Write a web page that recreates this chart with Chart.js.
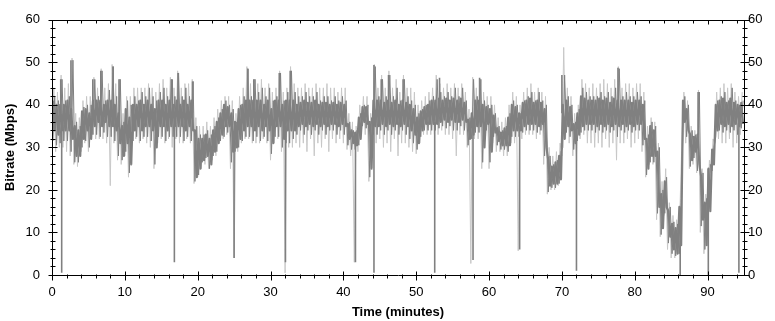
<!DOCTYPE html>
<html>
<head>
<meta charset="utf-8">
<script src="https://cdn.jsdelivr.net/npm/chart.js@4/dist/chart.umd.min.js"></script>
<style>
html,body{margin:0;padding:0;background:#fff;}
canvas{display:block;}
</style>
</head>
<body>
<canvas id="c" width="775" height="321"></canvas>
<script>
// Time axis: minutes, each bin covers binMinutes
const binMinutes = 0.5;
const xTickValues = [0,10,20,30,40,50,60,70,80,90];
const yTickValues = [0,10,20,30,40,50,60];

// Dense core of the bitrate trace (dark): per-bin low / high, Mbps
const darkLo = [
34,33,34,34,34,32,28,28,32,34,
32,35,36,35,36,35,35,34,31,28,
31,26,34,35,34,35,35,34,30,35,
35,34,35,35,35,35,34,35,34,23,
25,27,28,26,29,31,33,35,35,29,
30,32,34,35,35,34,35,34,35,34,
31,35,35,32,34,34,34,35,35.5,35,
35.5,35,35.5,35,35.5,35,35.5,35.5,35,35.5,
35,32,31,30.5,32,36,35.5,25,35,35,
35.5,35,35.5,35,35.5,35,35.5,35,34,33,
31,34,35.5,35.5,35.5,35.5,36,36.5,36,36.5,
36,36,36.5,36,32,33,35,35,30,35.5,
29,33.5,31.5,30.5,30.5,30.5,34,34,34,35,
35.5,35.5,35.5,35,35.5,30,21,21.5,21.5,22.5,
32,35,34,31,33,35,35.5,35.5,35.5,35,
35.5,35,35.5,35,35.5,35,35.5,35,35.5,35,
35.5,35.5,32,25,28,28,16,11,16,9,
6,5,7,36,34,27,29,26,13,7,
15,26,34,35.5,35,35.5,35,35.5,35,35.5
];
const darkHi = [
41,40,40,40,41,39,35,34,38.5,39,
38,41,41,41,40,41,41,40,38,35,
39,37,40,40,41,40,41,40,39,41,
41,40,41,40,41,40,41,40,41,34,
32,32,33,32,34,36,38,40,39.5,38,
36,39,40,41,41,41,41,41,40,41,
39,41,41,40,41,41,41,40,40.5,41,
40.5,40.5,41,40,40.5,40.5,40,40.5,40,40.5,
40,35.5,34,33.5,37,39.5,39.5,36,41,41,
41,40.5,41,40.5,41,40,41,40.5,40,39,
37,38.5,39.5,40,41,41,41.5,41,41.5,41,
41.5,41,41.5,40.5,36.5,38,41,41,40,39.5,
39,37.5,34.5,33.5,34.5,37,40,39.5,38,40.5,
41,41.5,40.5,41,40.5,39,27,25.5,26.5,28,
40,41,39.5,35.5,38,42,41.5,41,41,41,
41.5,41,41.5,40.5,41.5,41,41,41,41,40.5,
41,41,40,32,35,34,29,19,22,15,
12,11,16,41,39,33,32.5,33,23,17,
25,29.5,40,41,41.5,40.5,41.5,40.5,40,40.5
];
// Dark noise extremes around the core: per-bin low / high, Mbps
const noiseLo = [
31.5,30.5,31,31.5,31.5,29,26.5,26.5,30,31.5,
30,33,33,32.5,33.5,32.5,32.5,31.5,28,27,
29,24,31.5,32.5,31.5,32.5,32.5,31.5,26,32.5,
32.5,31.5,32.5,32.5,32.5,32.5,31.5,32.5,31.5,22,
23.5,26.5,27.5,25,28,29,31.5,32.5,33.5,26.5,
29,30,31.5,32.5,32.5,31.5,32.5,31.5,32.5,31.5,
28.5,32.5,32.5,30,31,31,32,33,34,33,
34,33,34,33,34,33,34,34,33,34,
33,30.5,29.5,29.5,30.5,35,34.5,23,33,33,
34,33,34,33,34,33,34,33,32,31,
29.5,32.5,34,34,34,34,34.5,35,34.5,35,
34,34,35,34,30.5,32,33.5,33.5,26.5,34,
26.5,32.5,30.5,29.5,29.5,29,32.5,32.5,32.5,33.5,
34,34,34,33.5,34,28,19.5,20.5,20.5,21.5,
30,33.5,32.5,29.5,31.5,33.5,34,34,34,33.5,
34,33.5,34,33.5,34,32.5,34,33.5,34,33.5,
34,34,30.5,23.5,26.5,26.5,14.5,9.5,14.5,7.5,
5,4.5,5,34.5,32.5,25.5,27.5,24.5,11.5,6,
14,24.5,32.5,34,33.5,34,33.5,34,33,34.5
];
const noiseHi = [
42,41,46,41,42,50.5,36,35,39.5,40,
40,46,42,48,41,43.5,49,42,46,36,
41,40,42,41,43,42,44,42,41,43,
44,42,46,42,47.5,42,44,42,45.5,35,
33,33,34,33,35,37,39,41,40,39,
36,40,42,48.5,42,46,43,44,42,44,
41,42,47.5,41,43,48,43,42,42,43,
42,42,43,41,42,42,41,42,41,42,
41,36,34,34,38,40,40,37,49,42,
46,42,47,42,44,41,46,42,41,40,
38,39,40,41,42,46,43,42,43,42,
44,42,44,41,37,46,42,46,41,40,
40,38,35,34,35,38,41,40,38,41,
42,43,41,43,41,40,28,26,27,29,
47,42,40,36,39,44,43,42,42,42,
43,42,43,42,44,48.5,42,43,42,42,
43,42,41,33,36,35,30,20,23,16,
12.5,12,17,42,40,34,33,43,24,18,
26,30,41,42,43,41,44,41,40,41
];
// Lighter scatter of the trace: per-bin low / high, Mbps
const lightLo = [
30,29,30,30,29,28,26,25.5,29,31,
29,33,32,32,32,31,21,31,27,26,
28,23,31,32,31,32,31,30,25,31,
32,31,32,30,32,31,31,32,31,21.5,
23,25,26,25,27,28,31,32,33,25,
4,29,31,32,32,31,31,31,32,31,
27,31,32,29,0.5,30,30,31,30,31,
29,32,28,31,30,32,29,32,31,32,
31,29.5,28,3,29,34,33,22,31,31,
32,30,31,29,32,28,31,31,30,29,
28.5,31,33,33,33,33,33,34,33,33,
32,28,33,33,30,2.7,32,32,25,32,
25,31,29,29,28,28,31,31,5.7,32,
33,33,33,32,33,26,19,20,20,21,
28,32,31,28,28,32,33,31,31,30,
31,30,32,30,31,27,31,31,32,30,
31,32,29,23,26,26,13,9,14,6,
4,4,5,33,31,25,26,24,10,5,
14,24,31,32,31,31,32,30,31,33
];
const lightHi = [
44,43,47,44,45,51,38,37,41,42,
42,46.5,44,48.5,44,45,49.5,45,46,38,
42,42,44,44,44,44,45,44,43,45,
46,44,46.5,44,48,44,45,45,46,37,
35,35,36,35,37,39,41,42,42,41,
38,42,44,49,45,46,45,46,44,45,
43,44,48,43,44,49,45,44,44,45,
44,44,45,44,44,45,44,44,43,44,
44,38,36,35,40,42,42,38,49.5,44,
47,44,48,44,46,43,47,44,44,43,
40,41,42,43,44,47,45,44,45,44,
45,44,45,43,39,46.5,44,46,43,42,
42,40,37,36,37,40,43,42,40,43,
44,45,43,44,43,42,30,28,29,31,
53.5,44,42,38,40,46,45,44,45,44,
45,46,45,44,46,49,44,45,45,44,
45,45,43,35,37,36,31,22,25,17,
14,13,18,43,41,35,34,43.5,25,19,
27,32,43,44,45,44,45,43,42,43
];
// Isolated spikes of the trace (minutes, low Mbps, high Mbps)
const spikeTimes = [1.2,1.33,2.6,5.6,6.7,8.4,9.2,16.5,16.8,17.3,19.3,25.0,26.9,27.7,31.2,32.05,32.7,41.66,44.2,45.2,46.2,48.2,52.54,53.2,57.8,58.7,64.2,70.0,72.0,77.7,86.24,88.7,90.1,94.3];
const spikeLo = [38,0.5,38,38,38,38,36,38,3,38,38,4,38,38,38,3,38,3,0.5,38,38,38,0.5,38,3.5,38,6,38,1,38,0,33,0,0.5];
const spikeHi = [46,35,50.5,46,48,49,46,46,35,47.5,45.5,33,48.5,46,47.5,35,48,32,49.4,46,47,46,36,46.4,36,46.4,35,47,34,48.7,15,43,25,38];

// Build point tables
const corePts = [], noisePts = [], lightPts = [], spikePts = [];
for (let i = 0; i < darkLo.length; i++) {
  const t = i * binMinutes;
  corePts.push({x: t + binMinutes * 0.25, y: darkHi[i]});
  corePts.push({x: t + binMinutes * 0.75, y: darkLo[i]});
  noisePts.push({x: t + binMinutes * 0.25, y: noiseLo[i]});
  noisePts.push({x: t + binMinutes * 0.75, y: noiseHi[i]});
  lightPts.push({x: t, y: lightLo[i]});
  lightPts.push({x: t + binMinutes * 0.5, y: lightHi[i]});
}
for (let i = 0; i < spikeTimes.length; i++) {
  spikePts.push({x: spikeTimes[i], y: spikeLo[i]});
  spikePts.push({x: spikeTimes[i], y: spikeHi[i]});
  spikePts.push({x: spikeTimes[i], y: null});
}

const FONT = "'Liberation Sans', Arial, sans-serif";

const framePlugin = {
  id: 'frame',
  afterDatasetsDraw(chart) {
    const {ctx, chartArea: a, scales} = chart;
    const x = scales.x, y = scales.y;
    const L = Math.round(a.left) + 0.5, R = Math.round(a.right) + 0.5;
    const T = Math.round(a.top) + 0.5, B = Math.round(a.bottom) + 0.5;
    ctx.save();
    ctx.strokeStyle = '#000';
    ctx.lineWidth = 1;
    ctx.beginPath();
    ctx.moveTo(L, T); ctx.lineTo(R, T); ctx.lineTo(R, B); ctx.lineTo(L, B); ctx.closePath();
    for (let v = y.min; v <= y.max; v += 2) {
      const py = Math.round(y.getPixelForValue(v)) + 0.5;
      const m = (v % 10 === 0) ? 4 : 2;
      ctx.moveTo(L - m, py); ctx.lineTo(L + m + 1, py);
      ctx.moveTo(R - m, py); ctx.lineTo(R + m + 1, py);
    }
    for (let t = x.min; t <= x.max; t += 2) {
      const px = Math.round(x.getPixelForValue(t)) + 0.5;
      const major = (t % 10 === 0);
      ctx.moveTo(px, B - (major ? 4 : 1)); ctx.lineTo(px, B + (major ? 5 : 3));
      ctx.moveTo(px, T); ctx.lineTo(px, T + (major ? 4 : 3));
    }
    ctx.stroke();
    ctx.restore();
  }
};

const tickFont = {family: FONT, size: 13};
const titleFont = {family: FONT, size: 13, weight: 'bold'};

new Chart(document.getElementById('c'), {
  type: 'line',
  data: {
    datasets: [
      {label: 'scatter', data: lightPts, borderColor: '#c8c8c8', borderWidth: 1, pointRadius: 0, tension: 0, order: 4},
      {label: 'noise', data: noisePts, borderColor: '#808080', borderWidth: 1, pointRadius: 0, tension: 0, order: 3},
      {label: 'core', data: corePts, borderColor: '#808080', borderWidth: 2.2, borderJoinStyle: 'round', pointRadius: 0, tension: 0, order: 2},
      {label: 'spikes', data: spikePts, borderColor: '#808080', borderWidth: 1.6, pointRadius: 0, tension: 0, spanGaps: false, order: 1}
    ]
  },
  options: {
    responsive: false,
    animation: false,
    devicePixelRatio: 1,
    layout: {padding: 0},
    plugins: {legend: {display: false}, tooltip: {enabled: false}},
    scales: {
      x: {
        type: 'linear', position: 'bottom', min: 0, max: 95,
        afterBuildTicks: s => { s.ticks = xTickValues.map(v => ({value: v})); },
        afterFit: s => { s.height = 46; },
        grid: {display: false, drawTicks: false},
        border: {display: false},
        ticks: {padding: 10, font: tickFont, color: '#000', maxRotation: 0, autoSkip: false},
        title: {display: true, text: 'Time (minutes)', font: titleFont, color: '#000', padding: {top: 0, bottom: 1}}
      },
      xTop: {
        type: 'linear', position: 'top', min: 0, max: 95,
        afterFit: s => { s.height = 13; },
        grid: {display: false, drawTicks: false},
        border: {display: false},
        ticks: {display: false}
      },
      y: {
        type: 'linear', position: 'left', min: 0, max: 60,
        afterBuildTicks: s => { s.ticks = yTickValues.map(v => ({value: v})); },
        afterFit: s => { s.width = 52; },
        grid: {display: false, drawTicks: false},
        border: {display: false},
        ticks: {padding: 12, font: tickFont, color: '#000'},
        title: {display: true, text: 'Bitrate (Mbps)', font: titleFont, color: '#000', padding: {top: 3, bottom: 0}}
      },
      yRight: {
        type: 'linear', position: 'right', min: 0, max: 60,
        afterBuildTicks: s => { s.ticks = yTickValues.map(v => ({value: v})); },
        afterFit: s => { s.width = 31; },
        grid: {display: false, drawTicks: false},
        border: {display: false},
        ticks: {padding: 4, font: tickFont, color: '#000'}
      }
    }
  },
  plugins: [framePlugin]
});
</script>
</body>
</html>
